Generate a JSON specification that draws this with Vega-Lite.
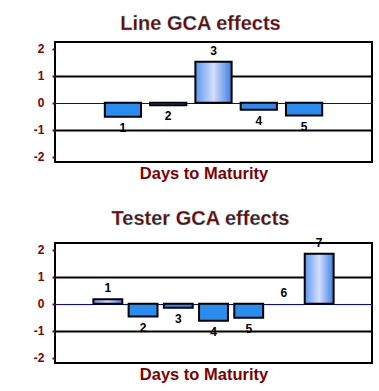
{
  "$schema": "https://vega.github.io/schema/vega-lite/v6.json",
  "padding": {"left": 32, "top": 13, "right": 5, "bottom": 5},
  "spacing": 24,
  "config": {
    "view": {"stroke": "black", "strokeWidth": 2},
    "title": {"font": "Liberation Sans", "fontSize": 20, "fontWeight": "bold", "color": "#800000", "offset": 8},
    "style": {"group-title": {"stroke": "#00e8f0", "strokeWidth": 0.35, "strokeOpacity": 0.8}},
    "axisX": {
      "labels": false, "ticks": false, "domain": false, "grid": false,
      "titleColor": "#800000", "titleFont": "Liberation Sans", "titleFontSize": 16.5, "titleFontWeight": "bold",
      "titlePadding": 3, "titleX": 148.5
    }
  },
  "vconcat": [
    {
      "width": 317, "height": 120,
      "title": {"text": "Line GCA effects", "dx": -13},
      "data": {"values": [
        {"k": "1", "v": -0.52}, {"k": "2", "v": -0.1}, {"k": "3", "v": 1.52}, {"k": "4", "v": -0.26}, {"k": "5", "v": -0.48}
      ]},
      "encoding": {
        "x": {"field": "k", "type": "nominal", "title": "Days to Maturity",
              "scale": {"domain": ["", "1", "2", "3", "4", "5", " "], "paddingInner": 0.2, "paddingOuter": 0.1}},
        "y": {"field": "v", "type": "quantitative", "scale": {"domain": [-2.2, 2.25], "nice": false},
              "axis": {
                "values": [-2, -1, 0, 1, 2], "format": "d", "labelExpr": "replace(datum.label, '−', '-')",
                "labelColor": "#800000", "labelFont": "Liberation Sans", "labelFontWeight": "bold", "labelFontSize": 12,
                "tickColor": "#800000", "tickSize": 3, "tickWidth": 2, "labelPadding": 8, "domain": false, "title": null,
                "grid": true,
                "gridColor": {"condition": {"test": "datum.value === 0", "value": "#0000ee"}, "value": "black"},
                "gridWidth": {"condition": {"test": "datum.value === 0", "value": 1}, "value": 2},
                "gridOpacity": {"condition": {"test": "abs(datum.value) === 2", "value": 0}, "value": 1}
              }}
      },
      "layer": [
        {"transform": [{"filter": "datum.v < 0"}], "mark": {"type": "bar", "color": "#2b8cf0", "stroke": "black", "strokeWidth": 2}},
        {"transform": [{"filter": "datum.v >= 0"}], "mark": {"type": "bar", "stroke": "black", "strokeWidth": 2,
          "color": {"gradient": "linear", "x1": 0, "y1": 0, "x2": 1, "y2": 0, "stops": [
            {"offset": 0, "color": "#5a98ee"}, {"offset": 0.5, "color": "#d4ddfb"}, {"offset": 1, "color": "#3f80e6"}]}}},
        {"transform": [{"filter": "datum.v >= 0"}], "mark": {"type": "text", "dy": -11, "baseline": "middle", "font": "Liberation Sans", "fontWeight": "bold", "fontSize": 12, "color": "black"},
          "encoding": {"text": {"field": "k"}}},
        {"transform": [{"filter": "datum.v < 0"}], "mark": {"type": "text", "dy": 11, "baseline": "middle", "font": "Liberation Sans", "fontWeight": "bold", "fontSize": 12, "color": "black"},
          "encoding": {"text": {"field": "k"}}}
      ]
    },
    {
      "width": 317, "height": 120,
      "title": {"text": "Tester GCA effects", "dx": -13},
      "data": {"values": [
        {"k": "1", "v": 0.16}, {"k": "2", "v": -0.48}, {"k": "3", "v": -0.15}, {"k": "4", "v": -0.63}, {"k": "5", "v": -0.52}, {"k": "6", "v": 0}, {"k": "7", "v": 1.85}
      ]},
      "encoding": {
        "x": {"field": "k", "type": "nominal", "title": "Days to Maturity",
              "scale": {"domain": ["", "1", "2", "3", "4", "5", "6", "7", " "], "paddingInner": 0.18, "paddingOuter": 0.09}},
        "y": {"field": "v", "type": "quantitative", "scale": {"domain": [-2.2, 2.25], "nice": false},
              "axis": {
                "values": [-2, -1, 0, 1, 2], "format": "d", "labelExpr": "replace(datum.label, '−', '-')",
                "labelColor": "#800000", "labelFont": "Liberation Sans", "labelFontWeight": "bold", "labelFontSize": 12,
                "tickColor": "#800000", "tickSize": 3, "tickWidth": 2, "labelPadding": 8, "domain": false, "title": null,
                "grid": true,
                "gridColor": {"condition": {"test": "datum.value === 0", "value": "#0000ee"}, "value": "black"},
                "gridWidth": {"condition": {"test": "datum.value === 0", "value": 1}, "value": 2},
                "gridOpacity": {"condition": {"test": "abs(datum.value) === 2", "value": 0}, "value": 1}
              }}
      },
      "layer": [
        {"transform": [{"filter": "datum.v < 0"}], "mark": {"type": "bar", "color": "#2b8cf0", "stroke": "black", "strokeWidth": 2}},
        {"transform": [{"filter": "datum.v > 0"}], "mark": {"type": "bar", "stroke": "black", "strokeWidth": 2,
          "color": {"gradient": "linear", "x1": 0, "y1": 0, "x2": 1, "y2": 0, "stops": [
            {"offset": 0, "color": "#5a98ee"}, {"offset": 0.5, "color": "#d4ddfb"}, {"offset": 1, "color": "#3f80e6"}]}}},
        {"transform": [{"filter": "datum.v >= 0"}], "mark": {"type": "text", "dy": -11, "baseline": "middle", "font": "Liberation Sans", "fontWeight": "bold", "fontSize": 12, "color": "black"},
          "encoding": {"text": {"field": "k"}}},
        {"transform": [{"filter": "datum.v < 0"}], "mark": {"type": "text", "dy": 11, "baseline": "middle", "font": "Liberation Sans", "fontWeight": "bold", "fontSize": 12, "color": "black"},
          "encoding": {"text": {"field": "k"}}}
      ]
    }
  ]
}
